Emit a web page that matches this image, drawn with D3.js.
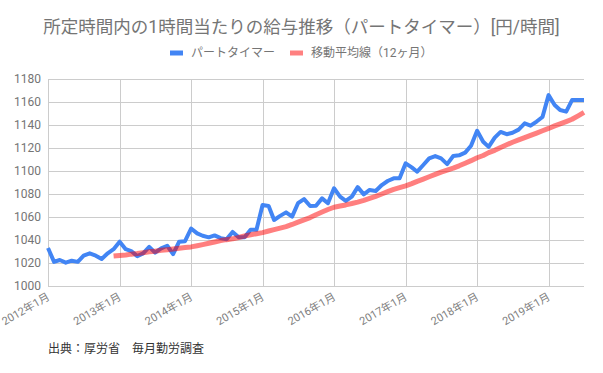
<!DOCTYPE html>
<html>
<head>
<meta charset="utf-8">
<script src="https://cdn.jsdelivr.net/npm/d3@7"></script>
<style>
  body { margin: 0; background: #fff; }
  text { font-family: Roboto, "Noto Sans CJK JP", sans-serif; }
</style>
</head>
<body>
<div id="chart1"></div>
<script>
// monthly data, 2012年1月 .. 2019年7月
const startMonth = new Date(2012, 0, 1);
const partTimer = [
  1033, 1021, 1022.6, 1020.3, 1022, 1021, 1026.4, 1028.4, 1026.4, 1023.5, 1028.4, 1032,
  1038.5, 1032, 1030.4, 1026, 1028.4, 1034, 1029, 1032.8, 1035, 1027.8, 1038.5, 1039,
  1050, 1045.8, 1043.7, 1042.3, 1044, 1041.6, 1040.6, 1047, 1042.3, 1042.3, 1049, 1049,
  1070.4, 1069.6, 1057.4, 1061, 1064, 1060.3, 1072, 1075.6, 1069.6, 1069.8, 1076.2, 1072,
  1085, 1077.7, 1074, 1077.7, 1086, 1079.7, 1083.5, 1082.6, 1087.8, 1091.3, 1093.6, 1093.6,
  1106.7, 1103.2, 1099.4, 1105.2, 1111, 1113, 1111, 1106, 1113, 1113.6, 1116, 1122,
  1135, 1125.5, 1121, 1129, 1134, 1132, 1133.3, 1136, 1141.4, 1139.4, 1143, 1147,
  1166, 1157.4, 1153, 1151.6, 1161.7, 1161.7, 1161.7
];
// 12ヶ月移動平均 (starts 2012年12月)
const maStart = 11;
const movingAvg = [
  1026, 1026.5, 1027, 1027.7, 1028.3, 1029, 1029.7, 1030.3, 1031, 1031.6, 1032.2, 1032.8, 1033.4,
  1034, 1035, 1036, 1037.2, 1038.3, 1039.5, 1040.3, 1041, 1042.2, 1043.5, 1044.5, 1045.5,
  1046.4, 1047.8, 1049, 1050.3, 1051.6, 1053.5, 1055.5, 1057.5, 1059.5, 1062, 1064.3, 1066.5,
  1068.5, 1069.5, 1070.5, 1071.7, 1073, 1074.5, 1076.2, 1078, 1080, 1082, 1084, 1085.5,
  1087, 1089, 1091, 1093, 1095, 1097, 1099, 1100.8, 1102.5, 1104.5, 1106.8, 1109,
  1111.5, 1113.5, 1116, 1118, 1120.5, 1122.8, 1125, 1127, 1129, 1131, 1133, 1135,
  1137, 1139.2, 1141, 1143, 1145, 1148, 1151
];
const yTicks = [1000, 1020, 1040, 1060, 1080, 1100, 1120, 1140, 1160, 1180];
const seriesNames = ["パートタイマー", "移動平均線（12ヶ月）"];

function init() {
    const w = 603;
    const h = 373;

    const months = partTimer.map((v, i) => d3.timeMonth.offset(startMonth, i));
    const blueData = partTimer.map((v, i) => ({date: months[i], value: v}));
    const redData = movingAvg.map((v, i) => ({date: months[i + maStart], value: v}));

    const svg = d3.select("#chart1")
                .append("svg")
                .attr("width", w)
                .attr("height", h);

    // x scale (time)
    const xScale = d3.scaleTime()
                .domain([months[0], months[months.length - 1]])
                .range([48, 584]);

    // y scale
    const yScale = d3.scaleLinear()
                .domain([1000, 1180])
                .range([286, 79]);

    const yearTicks = d3.timeYear.range(new Date(2012, 0, 1), new Date(2020, 0, 1));

    // horizontal grid
    svg.append("g")
        .selectAll("line")
        .data(yTicks)
        .enter()
        .append("line")
        .attr("x1", 48)
        .attr("x2", 584)
        .attr("y1", d => yScale(d) + 0.5)
        .attr("y2", d => yScale(d) + 0.5)
        .attr("stroke", "#cccccc");

    // vertical grid
    svg.append("g")
        .selectAll("line")
        .data(yearTicks)
        .enter()
        .append("line")
        .attr("x1", d => Math.round(xScale(d)) + 0.5)
        .attr("x2", d => Math.round(xScale(d)) + 0.5)
        .attr("y1", yScale(1180))
        .attr("y2", yScale(1000))
        .attr("stroke", "#cccccc");

    // y axis labels
    const yAxis = d3.axisLeft(yScale)
                .tickValues(yTicks)
                .tickSize(0)
                .tickPadding(7)
                .tickFormat(d3.format("d"));
    svg.append("g")
        .attr("transform", "translate(48,0)")
        .call(yAxis)
        .call(g => g.select(".domain").remove())
        .selectAll("text")
        .attr("fill", "#757575")
        .style("font-size", "12px");

    // x axis labels (rotated)
    const xAxis = d3.axisBottom(xScale)
                .tickValues(yearTicks)
                .tickSize(0)
                .tickPadding(0)
                .tickFormat(d3.timeFormat("%Y年%-m月"));
    svg.append("g")
        .attr("transform", "translate(0,286)")
        .call(xAxis)
        .call(g => g.select(".domain").remove())
        .selectAll("text")
        .attr("fill", "#808080")
        .style("font-size", "11px")
        .attr("text-anchor", "end")
        .attr("dy", "0")
        .attr("transform", "translate(2,13) rotate(-30)");

    const line = d3.line()
            .x(d => xScale(d.date))
            .y(d => yScale(d.value));

    // blue series
    svg.append("path")
        .datum(blueData)
        .attr("fill", "none")
        .attr("stroke", "#4285f4")
        .attr("stroke-width", 4)
        .attr("stroke-linejoin", "round")
        .attr("d", line);

    // moving average (semi transparent, drawn on top)
    svg.append("path")
        .datum(redData)
        .attr("fill", "none")
        .attr("stroke", "#ff0000")
        .attr("stroke-opacity", 0.5)
        .attr("stroke-width", 5)
        .attr("stroke-linejoin", "round")
        .attr("d", line);

    // title
    svg.append("text")
        .attr("x", w / 2)
        .attr("y", 33)
        .attr("text-anchor", "middle")
        .attr("fill", "#757575")
        .style("font-size", "17.5px")
        .text("所定時間内の1時間当たりの給与推移（パートタイマー）[円/時間]");

    // legend
    const legendColors = ["#4285f4", "#ff8080"];
    const legendX = [170, 290];
    seriesNames.forEach((name, i) => {
        svg.append("line")
            .attr("x1", legendX[i])
            .attr("x2", legendX[i] + 13)
            .attr("y1", 53)
            .attr("y2", 53)
            .attr("stroke", legendColors[i])
            .attr("stroke-width", 5);
        svg.append("text")
            .attr("x", legendX[i] + 21)
            .attr("y", 57)
            .attr("fill", "#757575")
            .style("font-size", "12px")
            .text(name);
    });

    // source
    svg.append("text")
        .attr("x", 48)
        .attr("y", 353)
        .attr("fill", "#333333")
        .style("font-size", "12px")
        .text("出典：厚労省　毎月勤労調査");
}

window.onload = init;
</script>
</body>
</html>
